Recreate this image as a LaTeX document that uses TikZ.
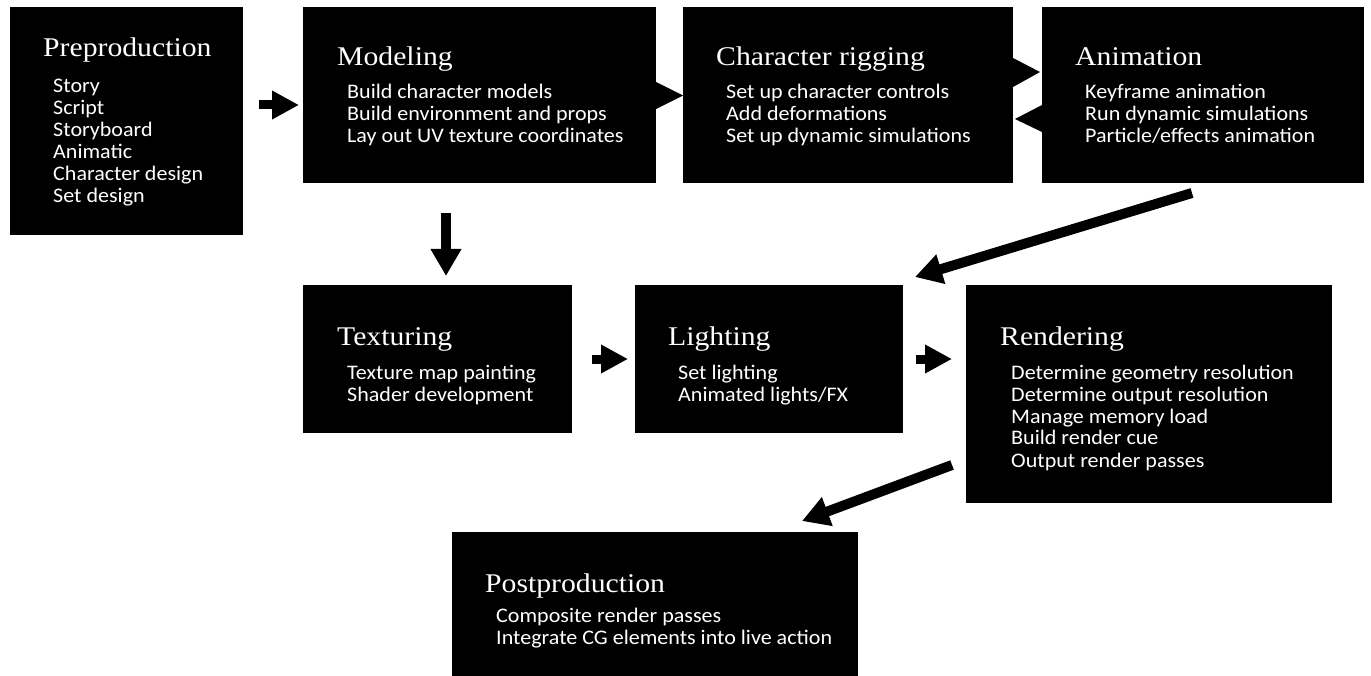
\documentclass[tikz,border=0pt]{standalone}
\usepackage{fontspec}
\setmainfont[FakeStretch=1.065]{Carlito}
\newfontfamily\titlefont[FakeStretch=1.1]{Liberation Serif}
\usetikzlibrary{arrows.meta}
\begin{document}
\begin{tikzpicture}[x=1pt,y=-1pt,
  box/.style={fill=black, draw=none, inner sep=0pt, outer sep=0pt, anchor=north west},
  ttl/.style={anchor=base west, inner sep=0pt, text=white, font=\titlefont\fontsize{27}{27}\selectfont},
  bod/.style={anchor=base west, inner sep=0pt, text=white, font=\fontsize{20.7}{22}\selectfont},
  blk/.style={line width=9pt, -{Triangle[length=27pt,width=27pt]}},
  blkd/.style={line width=10pt, -{Triangle[length=27pt,width=29pt]}},
]
\useasboundingbox (0,0) rectangle (1371,676);
\newcommand{\lines}[1]{\begin{tabular}[t]{@{}l@{}}#1\end{tabular}}
% boxes
\node[box, minimum width=233pt, minimum height=228pt] (pre) at (10,7) {};
\node[box, minimum width=353pt, minimum height=176pt] (mod) at (303,7) {};
\node[box, minimum width=330pt, minimum height=176pt] (rig) at (683,7) {};
\node[box, minimum width=322pt, minimum height=176pt] (ani) at (1042,7) {};
\node[box, minimum width=269pt, minimum height=148pt] (tex) at (303,285) {};
\node[box, minimum width=268pt, minimum height=148pt] (lig) at (635,285) {};
\node[box, minimum width=366pt, minimum height=218pt] (ren) at (966,285) {};
\node[box, minimum width=406pt, minimum height=144pt] (post) at (452,532) {};
% tabs
\fill (656,82) -- (683,95.5) -- (656,109) -- cycle;
\fill (1013,58) -- (1040,72) -- (1013,87) -- cycle;
\fill (1042,105) -- (1015,119) -- (1042,132) -- cycle;
% texts
\node[ttl] (preT) at (43,57) {Preproduction};
\node[bod] (preB) at (53,93) {\lines{Story\\Script\\Storyboard\\Animatic\\Character design\\Set design}};
\node[ttl] (modT) at (337,66) {Modeling};
\node[bod] (modB) at (347,99) {\lines{Build character models\\Build environment and props\\Lay out UV texture coordinates}};
\node[ttl] (rigT) at (716,66) {Character rigging};
\node[bod] (rigB) at (726,99) {\lines{Set up character controls\\Add deformations\\Set up dynamic simulations}};
\node[ttl] (aniT) at (1075,66) {Animation};
\node[bod] (aniB) at (1085,99) {\lines{Keyframe animation\\Run dynamic simulations\\Particle/effects animation}};
\node[ttl] (texT) at (337,345) {Texturing};
\node[bod] (texB) at (347,379) {\lines{Texture map painting\\Shader development}};
\node[ttl] (ligT) at (668,345) {Lighting};
\node[bod] (ligB) at (678,379) {\lines{Set lighting\\Animated lights/FX}};
\node[ttl] (renT) at (1000,345) {Rendering};
\node[bod] (renB) at (1011,379) {\lines{Determine geometry resolution\\Determine output resolution\\Manage memory load\\Build render cue\\Output render passes}};
\node[ttl] (postT) at (485,592) {Postproduction};
\node[bod] (postB) at (496,622) {\lines{Composite render passes\\Integrate CG elements into live action}};
% arrows
\coordinate (a1s) at (259,105); \coordinate (a1e) at (299,105);
\coordinate (a2s) at (446,213); \coordinate (a2e) at (446,276);
\coordinate (a3s) at (592,359); \coordinate (a3e) at (628,359);
\coordinate (a4s) at (916,359); \coordinate (a4e) at (952,359);
\coordinate (a5s) at (1192,193); \coordinate (a5e) at (915,277);
\coordinate (a6s) at (952,465); \coordinate (a6e) at (802,521);
\draw[blk] (a1s) -- (a1e);
\draw[blkd] (a2s) -- (a2e);
\draw[blk] (a3s) -- (a3e);
\draw[blk] (a4s) -- (a4e);
\draw[blkd] (a5s) -- (a5e);
\draw[blkd] (a6s) -- (a6e);
\end{tikzpicture}
\end{document}
